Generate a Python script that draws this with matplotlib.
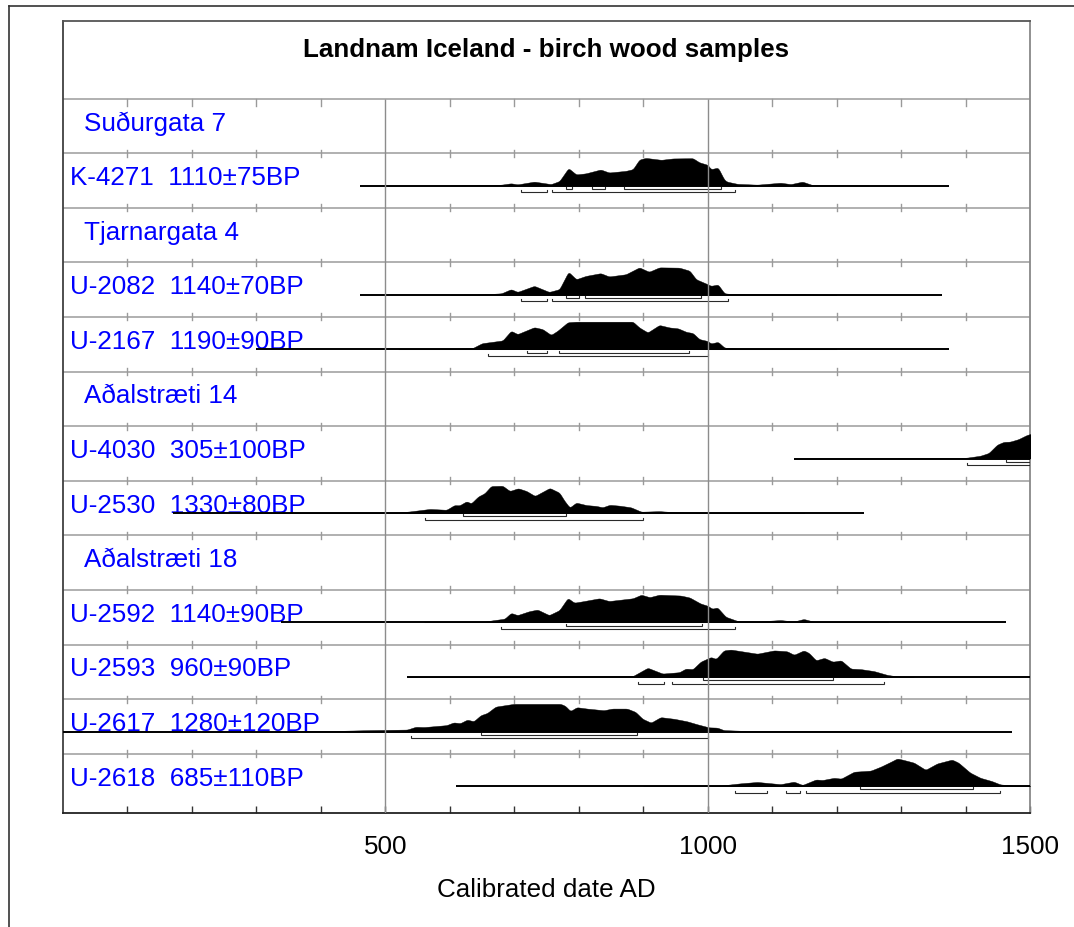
import numpy as np
import matplotlib
matplotlib.use("Agg")
import matplotlib.pyplot as plt
from matplotlib.lines import Line2D

plt.rcParams['font.family'] = ['Liberation Sans', 'DejaVu Sans']

# ---------------- data ----------------
TITLE = "Landnam Iceland - birch wood samples"
X_LABEL = "Calibrated date AD"
X_MAJOR = [500, 1000, 1500]
X_TICKLABELS = ["500", "1000", "1500"]

ROW_LABELS = ["Suðurgata 7", "K-4271  1110±75BP", "Tjarnargata 4",
              "U-2082  1140±70BP", "U-2167  1190±90BP", "Aðalstræti 14",
              "U-4030  305±100BP", "U-2530  1330±80BP", "Aðalstræti 18",
              "U-2592  1140±90BP", "U-2593  960±90BP", "U-2617  1280±120BP",
              "U-2618  685±110BP"]
ROW_IS_GROUP = [True, False, True, False, False, True, False, False, True,
                False, False, False, False]

# K-4271
K4271_YEARS = [600, 650, 680, 695, 705, 731, 757, 770, 784, 796, 811, 834, 847, 873, 884,
               894, 904, 928, 946, 977, 987, 1000, 1005, 1016, 1026, 1030, 1046, 1077,
               1113, 1129, 1147, 1162, 1201, 1250]
K4271_PROB = [0, 0.01, 0.03, 0.08, 0.04, 0.14, 0.05, 0.16, 0.63, 0.40, 0.44, 0.58, 0.47,
              0.53, 0.59, 0.94, 1.0, 0.93, 0.98, 0.99, 0.84, 0.75, 0.59, 0.65, 0.2, 0.14,
              0.06, 0.03, 0.1, 0.05, 0.14, 0.02, 0.01, 0]
K4271_SPAN = (461, 1375)
K4271_R68 = [(780, 790), (820, 841), (870, 1020)]
K4271_R95 = [(711, 751), (759, 1042)]

# U-2082
U2082_YEARS = [600, 650, 680, 695, 705, 731, 754, 770, 784, 796, 811, 834, 847, 873, 894,
               909, 925, 956, 972, 982, 1000, 1005, 1016, 1026, 1035, 1080, 1113, 1130,
               1147, 1165, 1200]
U2082_PROB = [0, 0.01, 0.05, 0.2, 0.1, 0.32, 0.1, 0.2, 0.83, 0.56, 0.68, 0.78, 0.66, 0.74,
              0.99, 0.83, 0.99, 0.98, 0.87, 0.56, 0.38, 0.32, 0.37, 0.05, 0.03, 0.02, 0.02,
              0.01, 0.03, 0.01, 0]
U2082_SPAN = (461, 1363)
U2082_R68 = [(780, 800), (810, 990)]
U2082_R95 = [(710, 750), (759, 1031)]

# U-2167
U2167_YEARS = [520, 583, 635, 650, 682, 695, 705, 731, 744, 757, 767, 783, 796, 884, 894,
               907, 925, 941, 954, 967, 977, 987, 1000, 1005, 1016, 1026, 1049, 1100, 1147,
               1200]
U2167_PROB = [0, 0.01, 0.04, 0.22, 0.32, 0.67, 0.55, 0.8, 0.73, 0.52, 0.67, 0.98, 1.0, 1.0,
              0.79, 0.61, 0.88, 0.79, 0.76, 0.63, 0.59, 0.37, 0.3, 0.21, 0.27, 0.06, 0.02,
              0.01, 0.02, 0]
U2167_SPAN = (300, 1375)
U2167_R68 = [(719, 750), (769, 971)]
U2167_R95 = [(660, 1000)]

# U-4030
U4030_YEARS = [1134, 1250, 1320, 1335, 1350, 1381, 1402, 1423, 1436, 1449, 1459, 1469,
               1482, 1495, 1510]
U4030_PROB = [0, 0.005, 0.01, 0.02, 0.01, 0.01, 0.03, 0.1, 0.2, 0.5, 0.6, 0.61, 0.7, 0.85,
              0.95]
U4030_SPAN = (1134, 1520)
U4030_R68 = [(1462, 1520)]
U4030_R95 = [(1402, 1520)]

# U-2530
U2530_YEARS = [300, 450, 520, 538, 569, 595, 607, 615, 626, 633, 644, 654, 664, 682, 693,
               706, 719, 732, 755, 770, 778, 786, 796, 812, 827, 837, 848, 863, 881, 897,
               925, 951, 982, 1050, 1150]
U2530_PROB = [0.005, 0.01, 0.02, 0.06, 0.15, 0.12, 0.29, 0.28, 0.43, 0.35, 0.6, 0.72, 0.98,
              0.99, 0.8, 0.9, 0.8, 0.62, 0.91, 0.74, 0.44, 0.2, 0.38, 0.29, 0.26, 0.21, 0.3,
              0.27, 0.21, 0.05, 0.07, 0.03, 0.02, 0.01, 0]
U2530_SPAN = (170, 1243)
U2530_R68 = [(620, 781)]
U2530_R95 = [(561, 900)]

# U-2592
U2592_YEARS = [560, 651, 666, 685, 695, 705, 723, 736, 754, 770, 783, 793, 806, 832, 847,
               884, 897, 910, 925, 958, 972, 989, 1000, 1007, 1015, 1028, 1046, 1077, 1113,
               1134, 1149, 1165, 1217, 1280]
U2592_PROB = [0, 0.01, 0.07, 0.13, 0.34, 0.26, 0.4, 0.46, 0.26, 0.44, 0.88, 0.71, 0.76,
              0.87, 0.77, 0.87, 1.0, 0.91, 1.0, 0.97, 0.9, 0.68, 0.6, 0.49, 0.54, 0.2, 0.05,
              0.03, 0.08, 0.03, 0.12, 0.02, 0.01, 0]
U2592_SPAN = (338, 1463)
U2592_R68 = [(780, 991)]
U2592_R95 = [(680, 1042)]

# U-2593
U2593_YEARS = [534, 700, 780, 884, 907, 930, 956, 966, 977, 989, 1005, 1013, 1025, 1036,
               1077, 1103, 1123, 1134, 1149, 1157, 1168, 1181, 1194, 1207, 1222, 1238, 1258,
               1279, 1294, 1320]
U2593_PROB = [0, 0.005, 0.02, 0.03, 0.33, 0.12, 0.17, 0.3, 0.28, 0.55, 0.72, 0.65, 0.96,
              0.99, 0.84, 0.96, 0.93, 0.8, 0.96, 0.87, 0.6, 0.69, 0.55, 0.6, 0.3, 0.28, 0.21,
              0.07, 0.02, 0]
U2593_SPAN = (534, 1520)
U2593_R68 = [(992, 1194)]
U2593_R95 = [(892, 932), (944, 1273)]

# U-2617
U2617_YEARS = [-50, 350, 420, 477, 534, 547, 560, 595, 606, 616, 627, 637, 648, 658, 671,
               699, 772, 779, 787, 797, 813, 839, 852, 875, 888, 899, 912, 927, 948, 968,
               984, 1002, 1015, 1025, 1061, 1149, 1217, 1300]
U2617_PROB = [0, 0, 0.02, 0.05, 0.07, 0.17, 0.16, 0.23, 0.33, 0.3, 0.43, 0.37, 0.59, 0.67,
              0.9, 1.0, 1.0, 0.93, 0.74, 0.88, 0.83, 0.77, 0.83, 0.83, 0.71, 0.46, 0.32,
              0.52, 0.46, 0.37, 0.26, 0.15, 0.14, 0.05, 0.02, 0.02, 0.01, 0]
U2617_SPAN = (-100, 1472)
U2617_R68 = [(649, 890)]
U2617_R95 = [(540, 1000)]

# U-2618
U2618_YEARS = [900, 1003, 1020, 1051, 1077, 1113, 1134, 1147, 1168, 1178, 1196, 1207, 1227,
               1253, 1269, 1284, 1294, 1302, 1320, 1338, 1356, 1379, 1389, 1407, 1423, 1441,
               1454, 1475, 1500]
U2618_PROB = [0, 0.0, 0.02, 0.1, 0.15, 0.07, 0.16, 0.04, 0.24, 0.22, 0.3, 0.27, 0.52, 0.56,
              0.71, 0.88, 1.0, 0.96, 0.85, 0.59, 0.82, 0.96, 0.85, 0.49, 0.3, 0.18, 0.06,
              0.02, 0.01]
U2618_SPAN = (609, 1520)
U2618_R68 = [(1237, 1411)]
U2618_R95 = [(1042, 1092), (1122, 1143), (1152, 1453)]

SAMPLES = {
    1: (K4271_YEARS, K4271_PROB, K4271_SPAN, K4271_R68, K4271_R95),
    3: (U2082_YEARS, U2082_PROB, U2082_SPAN, U2082_R68, U2082_R95),
    4: (U2167_YEARS, U2167_PROB, U2167_SPAN, U2167_R68, U2167_R95),
    6: (U4030_YEARS, U4030_PROB, U4030_SPAN, U4030_R68, U4030_R95),
    7: (U2530_YEARS, U2530_PROB, U2530_SPAN, U2530_R68, U2530_R95),
    9: (U2592_YEARS, U2592_PROB, U2592_SPAN, U2592_R68, U2592_R95),
    10: (U2593_YEARS, U2593_PROB, U2593_SPAN, U2593_R68, U2593_R95),
    11: (U2617_YEARS, U2617_PROB, U2617_SPAN, U2617_R68, U2617_R95),
    12: (U2618_YEARS, U2618_PROB, U2618_SPAN, U2618_R68, U2618_R95),
}

# ---------------- layout ----------------
W, H = 1074, 928
fig = plt.figure(figsize=(W / 100, H / 100), dpi=100)

AX_L, AX_R, AX_T, AX_B = 63, 1030, 21.5, 814
ROW_PX = 54.6
TITLE_PX = 78.0
n_rows = len(ROW_LABELS)
ax = fig.add_axes([AX_L / W, (H - AX_B) / H, (AX_R - AX_L) / W, (AX_B - AX_T) / H])
y_top = -TITLE_PX / ROW_PX
y_bot = (AX_B - AX_T - TITLE_PX) / ROW_PX
ax.set_xlim(0, 1500)
ax.set_ylim(y_bot, y_top)

px = 1.0 / ROW_PX                       # one pixel in row units
xpx = 1500.0 / (AX_R - AX_L)            # one pixel in years

BASE = 32.4 * px
PEAK = 27.6 * px
R68_Y = 35.7 * px
R95_Y = 39.0 * px
TEXT_Y = 31.0 * px

FS = 18.7

# frame lines between rows
for i in range(n_rows):
    ax.axhline(i, color='#a3a3a3', lw=1.2, zorder=1)
for i in range(n_rows):
    for xv in range(100, 1500, 100):
        if xv in (500, 1000):
            continue
        if i == 0:
            ax.plot([xv, xv], [0, 7 * px], color='#9a9a9a', lw=1.0, zorder=1)
        else:
            ax.plot([xv, xv], [i - 3.5 * px, i + 3.5 * px], color='#9a9a9a', lw=1.0, zorder=1)

# labels
for i, (lab, grp) in enumerate(zip(ROW_LABELS, ROW_IS_GROUP)):
    xoff = (21 if grp else 7) * xpx
    ax.text(xoff, i + TEXT_Y, lab, color='#0000ff', fontsize=FS, ha='left',
            va='baseline', zorder=2)

# distributions
def bracket(x0, x1, y):
    ax.plot([x0, x0, x1, x1], [y - 2 * px, y, y, y - 2 * px], color='#2a2a2a',
            lw=0.8, zorder=3, solid_joinstyle='miter')

def smooth_curve(yrs, prob):
    # render the read-off points as a gently rounded outline
    yrs = np.asarray(yrs, float)
    prob = np.asarray(prob, float)
    grid = np.arange(yrs[0], yrs[-1] + 0.5, 1.0)
    vals = np.interp(grid, yrs, prob)
    k = np.bartlett(9)
    k /= k.sum()
    padded = np.concatenate([np.full(4, vals[0]), vals, np.full(4, vals[-1])])
    sm = np.convolve(padded, k, mode='valid')
    return grid, sm

for i, (yrs, prob, span, r68, r95) in SAMPLES.items():
    b = i + BASE
    gx, gy = smooth_curve(yrs, prob)
    ax.fill_between(gx, b, b - PEAK * gy, color='black', lw=0.3, edgecolor='black',
                    zorder=3)
    ax.plot(list(span), [b, b], color='black', lw=1.4, zorder=3, solid_capstyle='butt')
    for x0, x1 in r68:
        bracket(x0, x1, i + R68_Y)
    for x0, x1 in r95:
        bracket(x0, x1, i + R95_Y)

# vertical grid at major dates
ax.vlines([500, 1000], 0, y_bot, color='#8c8c8c', lw=1.0, zorder=4)

# title
ax.text(750, y_top + 35.5 * px, TITLE, fontsize=FS, fontweight='bold', ha='center',
        va='baseline', color='black')

# axes styling
ax.spines['left'].set_color('#404040')
ax.spines['top'].set_color('#555555')
ax.spines['right'].set_color('#888888')
ax.spines['bottom'].set_color('#222222')
for s in ax.spines.values():
    s.set_linewidth(1.3)
ax.set_yticks([])
ax.set_xticks(X_MAJOR)
ax.set_xticklabels(X_TICKLABELS)
ax.set_xticks(range(100, 1500, 100), minor=True)
ax.tick_params(axis='x', which='both', direction='in', length=5.2, width=1.0,
               color='#333333', labelsize=FS, pad=15)
ax.set_xlabel(X_LABEL, fontsize=FS, labelpad=14)

# outer frame
fig.add_artist(Line2D([8.6 / W, 8.6 / W], [0, 1 - 7.3 / H], transform=fig.transFigure,
                      color='#333333', lw=1.2))
fig.add_artist(Line2D([8.6 / W, 1], [1 - 7.3 / H, 1 - 7.3 / H], transform=fig.transFigure,
                      color='#333333', lw=1.2))

fig.savefig("out.png", dpi=100)
